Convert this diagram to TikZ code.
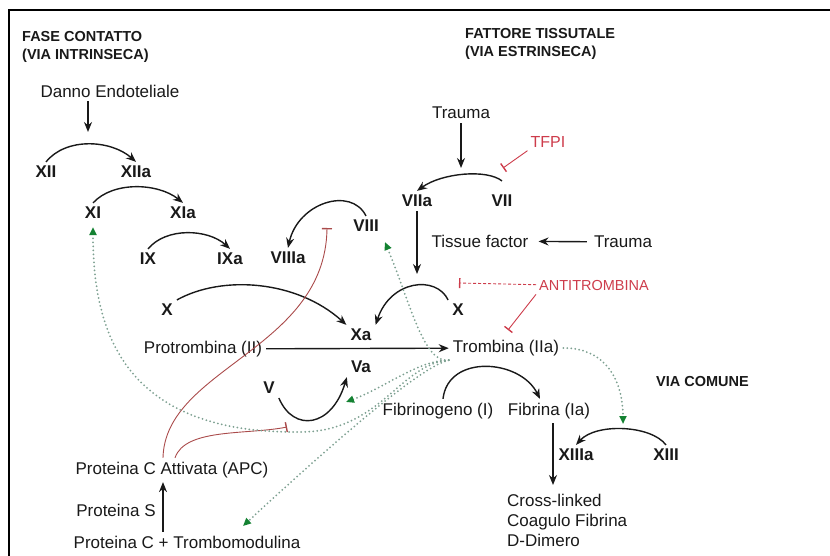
\documentclass[tikz,border=0pt]{standalone}
\usepackage{fontspec}
\setmainfont{Liberation Sans}
\usepackage{tikz}
\usetikzlibrary{arrows.meta}
\definecolor{ink}{RGB}{25,25,25}
\definecolor{inred}{RGB}{205,60,75}
\definecolor{apcred}{RGB}{170,75,75}
\definecolor{dotgreen}{RGB}{125,160,145}
\definecolor{tipgreen}{RGB}{20,130,50}
\tikzset{
  fac/.style={font=\fontsize{17}{20}\selectfont\bfseries, text=ink, inner sep=4pt},
  txt/.style={font=\fontsize{17}{20}\selectfont, text=ink, inner sep=4pt},
  head/.style={font=\fontsize{14.5}{18}\selectfont\bfseries, text=ink, anchor=west, align=left, inner sep=0pt},
  rosso/.style={font=\fontsize{16}{19}\selectfont, text=inred, inner sep=3pt},
  act/.style={draw=ink, line width=1.4pt, -{Stealth[length=10pt,width=8pt]}},
  inib/.style={draw=inred, line width=0.9pt, -{Bar[width=10pt,line width=1.4pt]}},
  inibapc/.style={draw=apcred, line width=0.9pt, -{Bar[width=10pt,line width=1.4pt]}},
  trig/.style={draw=dotgreen, line width=2pt, line cap=round, dash pattern=on 0pt off 4pt, -{Triangle[length=8pt,width=7pt,color=tipgreen]}}
}
\newcommand{\fattore}[3] {\node at (#1) (#2) [fac] {#3};}
\newcommand{\voce}[3] {\node at (#1) (#2) [txt] {#3};}
\newcommand{\attiva}[4] {\draw [act] (#1) .. controls +(#2) and +(#3) .. (#4);}
\newcommand{\inibisce}[2] {\draw [inib] (#1) -- (#2);}
\newcommand{\trigger}[4] {\draw [trig] (#1) .. controls +(#2) and +(#3) .. (#4);}

\begin{document}
\begin{tikzpicture}[x=1pt,y=-1pt]
\useasboundingbox (0,0) rectangle (830,556);
\draw [line width=2pt] (9,556) -- (9,10) -- (830,10);

\node at (22,47) (fase) [head] {FASE CONTATTO\\(VIA INTRINSECA)};
\node at (465,44) (fattore) [head] {FATTORE TISSUTALE\\(VIA ESTRINSECA)};
\node at (656,382) (comune) [head] {VIA COMUNE};

\voce {110,91}{danno}{Danno Endoteliale}
\coordinate (danno1) at (88,132);
\draw [act] ([xshift=-22pt]danno.south) -- (danno1);

\fattore {46,172}{xii}{XII}
\fattore {136,172}{xiia}{XIIa}
\attiva {xii.north}{20,-25}{-25,-22}{xiia.north}

\fattore {93,213}{xi}{XI}
\fattore {183,213}{xia}{XIa}
\attiva {xi.north}{20,-22}{-25,-20}{xia.north}

\fattore {148,259}{ix}{IX}
\fattore {230,259}{ixa}{IXa}
\attiva {ix.north}{18,-22}{-22,-20}{ixa.north}

\fattore {288,258}{viiia}{VIIIa}
\fattore {366,226}{viii}{VIII}
\attiva {viii.north}{-15,-30}{10,-45}{viiia.north}

\voce {461,113}{trauma}{Trauma}
\coordinate (trauma1) at (461,168);
\draw [act] (trauma.south) -- (trauma1);
\fattore {417,201}{viia}{VIIa}
\fattore {502,201}{vii}{VII}
\attiva {[yshift=10pt]vii.north}{-15,-12}{25,-18}{viia.north}

\node at (548,142) (tfpi) [rosso] {TFPI};
\coordinate (tfpi1) at (503,168);
\inibisce {tfpi.south west}{tfpi1}

\coordinate (viia1) at (417,274);
\draw [act] (viia.south) -- (viia1);

\voce {480,241}{tissue}{Tissue factor}
\voce {623,242}{traumab}{Trauma}
\draw [act, shorten <=3pt, shorten >=6pt] (traumab) -- (tissue);

\fattore {458,310}{xdx}{X}
\fattore {167,310}{xsx}{X}
\fattore {361,335}{xa}{Xa}
\attiva {xdx.north west}{-12,-25}{15,-45}{xa.north east}
\attiva {xsx.north east}{45,-25}{-50,-45}{xa.north west}

\node at (594,286) (antitr) [rosso, font=\fontsize{14.5}{17}\selectfont] {ANTITROMBINA};
\coordinate (xinib) at (459,283);
\draw [inib, densely dashed] (antitr) -- (xinib);
\coordinate (trombinib) at (508,330);
\inibisce {antitr.south west}{trombinib}

\voce {203,349}{protr}{Protrombina (II)}
\voce {506,348}{tromb}{Trombina (IIa)}
\draw [act] (protr) -- (tromb);

\fattore {361,367}{va}{Va}
\fattore {269,388}{v}{V}
\attiva {v.south east}{15,35}{-15,50}{va.south west}

\voce {438,411}{fibrinogeno}{Fibrinogeno (I)}
\voce {549,411}{fibrina}{Fibrina (Ia)}
\attiva {[xshift=5pt]fibrinogeno.north}{5,-45}{-20,-40}{[xshift=-9pt]fibrina.north}
\coordinate (fibrina1) at (553,485);
\draw [act] ([xshift=4pt]fibrina.south) -- (fibrina1);
\node at (503,520) (crosslinked) [txt, anchor=west, align=left] {Cross-linked\\Coagulo Fibrina\\D-Dimero};

\fattore {576,455}{xiiia}{XIIIa}
\fattore {666,455}{xiii}{XIII}
\attiva {xiii.north}{-15,-20}{20,-22}{xiiia.north}

\voce {172,470}{apc}{Proteina C Attivata (APC)}
\voce {116,510}{protS}{Proteina S}
\voce {187,542}{protC}{Proteina C + Trombomodulina}
\draw [act] ([xshift=-24pt]protC.north) -- ([xshift=-9pt]apc.south);

\coordinate (viiiinib) at (327,228);
\draw [inibapc] ([xshift=-9pt]apc.north) .. controls +(2,-90) and +(-2,122) .. (viiiinib);
\coordinate (vinib) at (287,427);
\draw [inibapc] ([xshift=3pt]apc.north) .. controls +(10,-30) and +(-40,8) .. (vinib);

\coordinate (xiarc) at (300,432);
\coordinate (vaact) at (346,402);
\coordinate (protCact) at (243,526);
\coordinate (xiiiact) at (623,424);
\trigger {tromb.south west}{-25,4}{25,60}{[xshift=2pt,yshift=-6pt]viii.south east}
\trigger {tromb.south west}{-30,0}{40,-15}{vaact}
\trigger {tromb.south west}{-29,7}{92,-85}{protCact}
\draw [trig] (tromb.south west) .. controls +(-49,4) and +(80,0) .. (xiarc) .. controls +(-180,2) and +(0,100) .. ([yshift=-4pt]xi.south);
\trigger {tromb.east}{45,0}{0,-40}{xiiiact}

\end{tikzpicture}
\end{document}
